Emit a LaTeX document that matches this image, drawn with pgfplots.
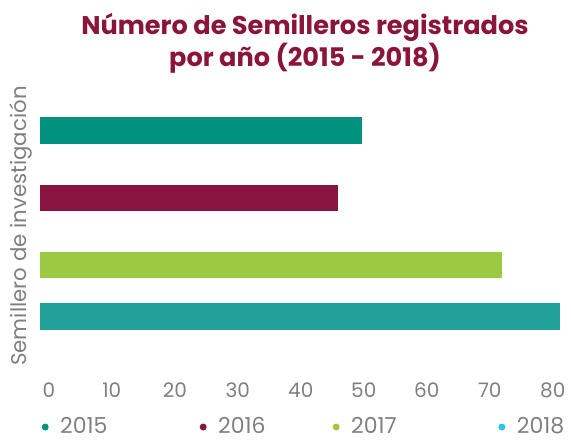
\documentclass[border=0pt]{standalone}
\usepackage{fontspec}
\setmainfont{Poppins}
\usepackage{pgfplots}
\pgfplotsset{compat=1.18}
\definecolor{cA}{HTML}{00917F}
\definecolor{cB}{HTML}{8A1440}
\definecolor{cC}{HTML}{9BC942}
\definecolor{cD}{HTML}{22A09A}
\definecolor{cDl}{HTML}{2AC4F1}
\definecolor{ttl}{HTML}{8A1538}
\definecolor{txt}{HTML}{808080}
\begin{document}
\begin{tikzpicture}[x=1pt,y=1pt]
\path[use as bounding box] (0,0) rectangle (571,440);
\node[anchor=base, font=\fontsize{25.6}{30}\selectfont\bfseries, text=ttl, inner sep=0] at (305,405) {Número de Semilleros registrados};
\node[anchor=base, font=\fontsize{25.6}{30}\selectfont\bfseries, text=ttl, inner sep=0] at (305,373) {por año (2015 - 2018)};
\begin{axis}[
  at={(40pt,95pt)}, anchor=south west,
  scale only axis, width=531pt, height=245pt,
  xmin=0, xmax=84.29, ymin=100, ymax=345, y dir=reverse,
  axis line style={draw=none}, major tick length=0pt,
  xtick={0,10,...,80}, ytick=\empty,
  xticklabel style={anchor=north, inner sep=0pt, xshift=8.8pt, yshift=-38pt, text=txt, font=\fontsize{20}{22}\selectfont},
  /pgf/number format/assume math mode=true,
  ylabel={Semillero de investigación},
  ylabel style={at={(axis description cs:-0.0358,0.4857)}, anchor=center, text=txt, font=\fontsize{21.3}{22}\selectfont},
  xbar, bar width=26.5pt, bar shift=0pt,
  legend style={at={(axis description cs:0.0028,-0.3306)}, anchor=west, draw=none, fill=none, inner sep=0pt, column sep=0pt, row sep=0pt, nodes={inner sep=0pt, text=txt, font=\fontsize{22}{24}\selectfont}},
  legend columns=4,
]
\addplot[fill=cA, draw=none, forget plot] coordinates {(51.1,130.5)};
\addplot[fill=cB, draw=none, forget plot] coordinates {(47.3,198)};
\addplot[fill=cC, draw=none, forget plot] coordinates {(73.4,265)};
\addplot[fill=cD, draw=none, forget plot] coordinates {(82.5,316.5)};
\addlegendimage{legend image code/.code={\fill[cA, draw=none] (3.5pt,-1pt) circle (3.5pt); \path[draw=none, fill=none] (0pt,-1pt) -- (18.5pt,-1pt);}}
\addlegendentry{\makebox[139.5pt][l]{2015}}
\addlegendimage{legend image code/.code={\fill[cB, draw=none] (3.5pt,-1pt) circle (3.5pt); \path[draw=none, fill=none] (0pt,-1pt) -- (18.5pt,-1pt);}}
\addlegendentry{\makebox[114.5pt][l]{2016}}
\addlegendimage{legend image code/.code={\fill[cC, draw=none] (3.5pt,-1pt) circle (3.5pt); \path[draw=none, fill=none] (0pt,-1pt) -- (18.5pt,-1pt);}}
\addlegendentry{\makebox[147.2pt][l]{2017}}
\addlegendimage{legend image code/.code={\fill[cDl, draw=none] (3.5pt,-1pt) circle (3.5pt); \path[draw=none, fill=none] (0pt,-1pt) -- (18.5pt,-1pt);}}
\addlegendentry{2018}
\end{axis}
\end{tikzpicture}
\end{document}
